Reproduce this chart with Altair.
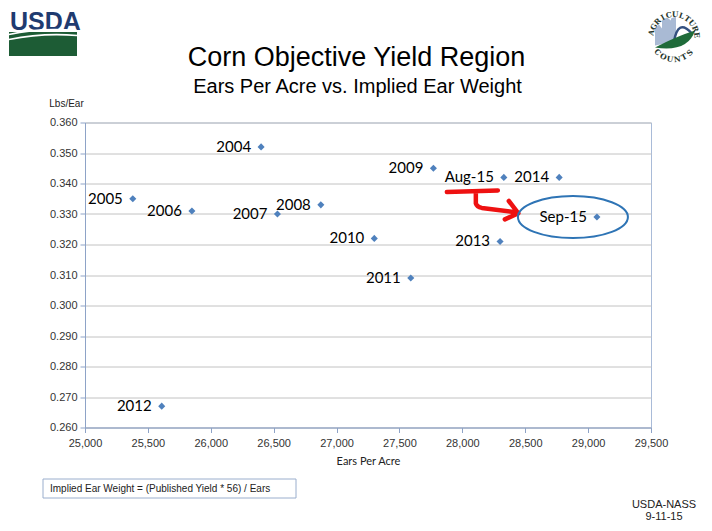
import math
import altair as alt
import pandas as pd

# ---- data ----
labels = ["2004", "2005", "2006", "2007", "2008", "2009", "2010",
          "2011", "2012", "2013", "2014", "Aug-15", "Sep-15"]
ears = [26400, 25380, 25850, 26530, 26875, 27770, 27300,
        27590, 25610, 28300, 28770, 28330, 29070]
weight = [0.352, 0.335, 0.331, 0.330, 0.333, 0.345, 0.322,
          0.309, 0.267, 0.321, 0.342, 0.342, 0.329]
x_ticks = [25000, 25500, 26000, 26500, 27000, 27500, 28000, 28500, 29000, 29500]
y_ticks = [0.26, 0.27, 0.28, 0.29, 0.30, 0.31, 0.32, 0.33, 0.34, 0.35, 0.36]

title_text = "Corn Objective Yield Region"
subtitle_text = "Ears Per Acre vs. Implied Ear Weight"
formula_text = "Implied Ear Weight = (Published Yield * 56) / Ears"
footer1 = "USDA-NASS"
footer2 = "9-11-15"

df = pd.DataFrame({"label": labels, "ears": ears, "weight": weight})
one = pd.DataFrame({"k": [0]})

W, H = 566, 305
AX = "#8EA3C7"
FONT = "Liberation Sans"

xs = alt.Scale(domain=[25000, 29500], nice=False, zero=False)
ys = alt.Scale(domain=[0.26, 0.36], nice=False, zero=False)

x_axis = alt.Axis(
    values=x_ticks, format=",d", grid=False, title="Ears Per Acre",
    titleFont="Lato", titleFontSize=11, titleFontWeight="normal", titleColor="#222222",
    titleY=33.5, titleBaseline="middle", labelPadding=5, labelFlush=False,
    labelOverlap=False)
y_axis = alt.Axis(
    values=y_ticks, format=".3f", grid=True, title="Lbs/Ear",
    titleAngle=0, titleX=-19, titleY=-19.5, titleAlign="center", titleBaseline="middle",
    titleFont=FONT, titleFontSize=10, titleFontWeight="normal", titleColor="#222222",
    labelPadding=3, labelFlush=False, labelOverlap=False)


def xe():
    return alt.X("ears:Q", scale=xs, axis=x_axis)


def ye():
    return alt.Y("weight:Q", scale=ys, axis=y_axis)


base = alt.Chart(df)

points = base.mark_point(shape="diamond", filled=True, size=50, color="#4F81BD",
                         opacity=1).encode(x=xe(), y=ye())
texts = base.mark_text(align="right", baseline="middle", dx=-10, font="Lato",
                       fontSize=15, color="black").encode(x=xe(), y=ye(), text="label:N")

arrow_path = ("M -57 14.6 L -6 13 "
              "M -28 15 L -28 26 Q -27 29.5 -22 30.5 L 13 35 "
              "M 5 23.6 L 14.5 35.9 L 1 42")
arrow = base.transform_filter(alt.datum.label == "Aug-15").mark_point(
    shape=arrow_path, size=4, filled=False, color="#EE1111", strokeWidth=4.5,
    strokeCap="round", strokeJoin="round", opacity=1).encode(x=xe(), y=ye())

ellipse_path = "M -79 0 A 55 21 0 1 0 31 0 A 55 21 0 1 0 -79 0 Z"
ellipse = base.transform_filter(alt.datum.label == "Sep-15").mark_point(
    shape=ellipse_path, size=4, filled=False, color="#2E74B5", strokeWidth=2,
    opacity=1).encode(x=xe(), y=ye())


def txt(s, x, y, **kw):
    return alt.Chart(one).mark_text(text=s, **kw).encode(x=alt.value(x), y=alt.value(y))


def shape(path, x, y, **kw):
    return alt.Chart(one).mark_point(shape=path, size=4, opacity=1, **kw).encode(
        x=alt.value(x), y=alt.value(y))


def rect(x, x2, y, y2, **kw):
    return alt.Chart(one).mark_rect(**kw).encode(
        x=alt.value(x), x2=alt.value(x2), y=alt.value(y), y2=alt.value(y2))


layers = [points]

# titles
layers.append(txt(title_text, 271.5, -56.5, font=FONT, fontSize=27, color="black",
                  align="center", baseline="alphabetic"))
layers.append(txt(subtitle_text, 272.5, -29.2, font=FONT, fontSize=20, color="black",
                  align="center", baseline="alphabetic"))

# USDA logo
layers.append(txt("USDA", -75, -93, font=FONT, fontSize=25, fontWeight="bold",
                  color="#1F3B70", align="left", baseline="alphabetic"))
layers.append(rect(-76, -8, -90.5, -66.5, color="#1D5C35"))
layers.append(shape("M -34 -5.5 Q -4 -12.5 34 -9.5 M -34 -0.5 Q 0 -7.5 34 -4.5", -42, -82.5,
                    filled=False, color="white", strokeWidth=1.6))

# NASS "Agriculture Counts" logo
cx, cy, r = 589, -85, 22.5
layers.append(shape("M -19 8 L -19 -9 L -15 -13 L -12 -9 L -12 -17 L -7 -20 L -3 -17 "
                    "L -3 -19 L 2 -21 L 2 4 Z", cx, cy, filled=True, color="#A9BAD4"))
layers.append(shape("M 0 4 Q 4 -19 17 -5", cx, cy, filled=False, color="#34507F",
                    strokeWidth=2.5))
layers.append(shape("M -19 10 Q 2 -1 21 -7 Q 14 15 -19 10 Z", cx, cy, filled=True,
                    color="#1F6B3A"))
top_word = "AGRICULTURE"
t0, t1 = -78.0, 84.0
for i, ch in enumerate(top_word):
    th = t0 + (t1 - t0) * i / (len(top_word) - 1)
    px = cx + r * math.sin(math.radians(th))
    py = cy - r * math.cos(math.radians(th))
    layers.append(txt(ch, px, py, font="DejaVu Serif", fontSize=7.5, fontWeight="bold",
                      color="#25352B", align="center", baseline="middle", angle=th % 360))
bot_word = "COUNTS"
b0, b1 = 228.0, 134.0
for i, ch in enumerate(bot_word):
    th = b0 + (b1 - b0) * i / (len(bot_word) - 1)
    px = cx + r * math.sin(math.radians(th))
    py = cy - r * math.cos(math.radians(th))
    layers.append(txt(ch, px, py, font="DejaVu Serif", fontSize=7.5, fontWeight="bold",
                      color="#25352B", align="center", baseline="middle",
                      angle=(th - 180) % 360))

# chart content
layers += [texts, arrow, ellipse]

# formula box and footer
layers.append(rect(-42, 211, 356.5, 375.5, fill="white", stroke="#9AAECD", strokeWidth=1))
layers.append(txt(formula_text, -35, 366.5, font=FONT, fontSize=10, color="#222222",
                  align="left", baseline="middle"))
layers.append(txt(footer1, 579, 382.5, font=FONT, fontSize=11, color="#222222",
                  align="center", baseline="middle"))
layers.append(txt(footer2, 579, 394.5, font=FONT, fontSize=11, color="#222222",
                  align="center", baseline="middle"))

chart = alt.layer(*layers).properties(
    width=W, height=H,
    autosize=alt.AutoSizeParams(type="none"),
    padding={"left": 77, "top": 114.5, "right": 53, "bottom": 95.5},
).configure_view(stroke="#A9BBD8", strokeWidth=1).configure_axis(
    labelFont=FONT, labelFontSize=11, labelColor="#333333",
    domainColor=AX, tickColor=AX, tickSize=5, gridColor="#C2C2C2", gridWidth=1,
)

chart.save("out.html", embed_options={"renderer": "svg", "actions": False})
